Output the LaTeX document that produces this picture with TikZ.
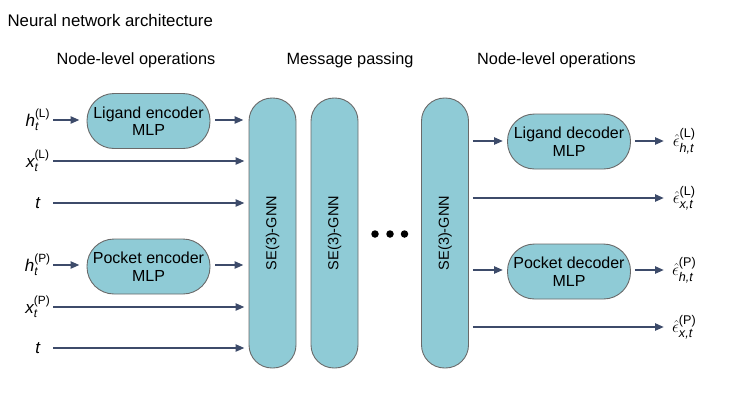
\documentclass[tikz,border=0pt]{standalone}
\usepackage{amsmath}
\usepackage{fontspec}
\setmainfont{Liberation Sans}
\usetikzlibrary{arrows.meta}
\definecolor{boxfill}{HTML}{8FCBD6}
\definecolor{boxline}{HTML}{6A6A6A}
\definecolor{arrowc}{HTML}{3D4B6A}
\tikzset{
  mlp/.style={draw=boxline, line width=0.9pt, fill=boxfill, rounded corners=27pt,
    minimum width=123pt, minimum height=55pt, align=center, inner sep=0pt,
    font=\fontsize{16}{17.5}\selectfont},
  pillar/.style={draw=boxline, line width=0.9pt, fill=boxfill, rounded corners=23pt,
    minimum width=47pt, minimum height=270pt, inner sep=0pt},
  pillartext/.style={rotate=90, font=\fontsize{14.5}{17}\selectfont},
  inlabel/.style={minimum width=30pt, inner sep=0pt, font=\fontsize{17}{18}\selectfont},
  outlabel/.style={minimum width=40pt, inner sep=0pt, font=\fontsize{18}{18}\selectfont},
  header/.style={font=\fontsize{16.3}{18}\selectfont},
  flow/.style={draw=arrowc, line width=2.4pt, -{Triangle[length=9pt,width=7pt]}},
  dot/.style={circle, fill=black, minimum size=7.5pt, inner sep=0pt}
}
\newcommand{\tv}[1]{\text{\itshape #1}}
\begin{document}
\begin{tikzpicture}[x=1pt,y=-1pt]
\useasboundingbox (0,0) rectangle (738,418);

% titles
\node[header, anchor=west, font=\fontsize{16.8}{18}\selectfont] (title) at (4,20) {Neural network architecture};
\node[header] (hleft) at (136,60) {Node-level operations};
\node[header] (hmid) at (350,60) {Message passing};
\node[header] (hright) at (556.5,60) {Node-level operations};

% encoders
\node[mlp] (encL) at (148.5,121) {Ligand encoder\\MLP};
\node[mlp] (encP) at (148.5,266.5) {Pocket encoder\\MLP};

% pillars
\node[pillar] (p1) at (272.5,233) {};
\node[pillar] (p2) at (334.5,233) {};
\node[pillar] (p3) at (445,233) {};
\node[pillartext] (t1) at (p1) {SE(3)-GNN};
\node[pillartext] (t2) at (p2) {SE(3)-GNN};
\node[pillartext] (t3) at (p3) {SE(3)-GNN};

% dots
\node[dot] (d1) at (375,234) {};
\node[dot] (d2) at (390,234) {};
\node[dot] (d3) at (404.5,234) {};

% decoders
\node[mlp] (decL) at (569,141.5) {Ligand decoder\\MLP};
\node[mlp] (decP) at (569,271.5) {Pocket decoder\\MLP};

% input labels
\node[inlabel, anchor=east] (hL) at (53,120) {$\tv{h}_{\tv{t}}^{\text{(L)}}$};
\node[inlabel, anchor=east] (xL) at (53,161) {$\tv{x}_{\tv{t}}^{\text{(L)}}$};
\node[inlabel, anchor=east] (tL) at (53,203) {$\tv{t}$};
\node[inlabel, anchor=east] (hP) at (53,265) {$\tv{h}_{\tv{t}}^{\text{(P)}}$};
\node[inlabel, anchor=east] (xP) at (53,307) {$\tv{x}_{\tv{t}}^{\text{(P)}}$};
\node[inlabel, anchor=east] (tP) at (53,348) {$\tv{t}$};

% output labels
\node[outlabel, anchor=west] (ehL) at (664,141) {$\hat{\epsilon}_{\tv{h,t}}^{\text{(L)}}$};
\node[outlabel, anchor=west] (exL) at (664,198) {$\hat{\epsilon}_{\tv{x,t}}^{\text{(L)}}$};
\node[outlabel, anchor=west] (ehP) at (664,270) {$\hat{\epsilon}_{\tv{h,t}}^{\text{(P)}}$};
\node[outlabel, anchor=west] (exP) at (664,327) {$\hat{\epsilon}_{\tv{x,t}}^{\text{(P)}}$};

% input arrows
\draw[flow, shorten >=7pt] (hL.east) -- (hL.east -| encL.west);
\draw[flow, shorten <=5pt, shorten >=5pt] (hL.east -| encL.east) -- (hL.east -| p1.west);
\draw[flow, shorten >=4pt] (xL.east) -- (xL.east -| p1.west);
\draw[flow, shorten >=4pt] (tL.east) -- (tL.east -| p1.west);
\draw[flow, shorten >=7pt] (hP.east) -- (hP.east -| encP.west);
\draw[flow, shorten <=5pt, shorten >=5pt] (hP.east -| encP.east) -- (hP.east -| p1.west);
\draw[flow, shorten >=4pt] (xP.east) -- (xP.east -| p1.west);
\draw[flow, shorten >=4pt] (tP.east) -- (tP.east -| p1.west);

% output arrows
\draw[flow, shorten <=4pt, shorten >=4pt] (ehL.west -| p3.east) -- (ehL.west -| decL.west);
\draw[flow, shorten <=4pt] (ehL.west -| decL.east) -- (ehL.west);
\draw[flow, shorten <=4pt] (exL.west -| p3.east) -- (exL.west);
\draw[flow, shorten <=4pt, shorten >=4pt] (ehP.west -| p3.east) -- (ehP.west -| decP.west);
\draw[flow, shorten <=4pt] (ehP.west -| decP.east) -- (ehP.west);
\draw[flow, shorten <=4pt] (exP.west -| p3.east) -- (exP.west);
\end{tikzpicture}
\end{document}
